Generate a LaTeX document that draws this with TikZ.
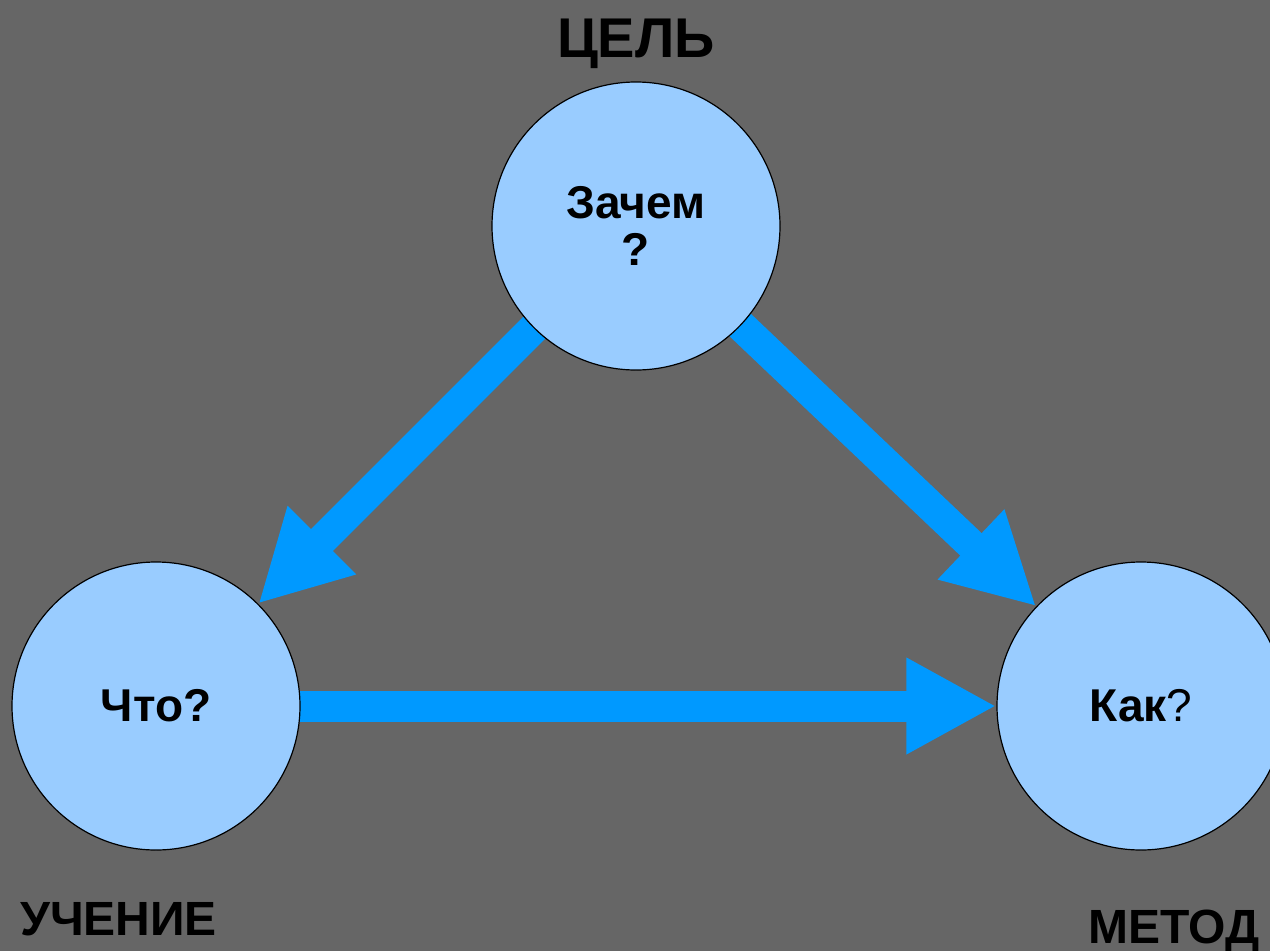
\documentclass[tikz,border=0pt]{standalone}
\usepackage{fontspec}
\setmainfont{Liberation Sans}
\usetikzlibrary{arrows.meta,backgrounds}
\definecolor{bggray}{HTML}{666666}
\definecolor{ballblue}{HTML}{99CCFF}
\definecolor{pushblue}{HTML}{0099FF}
\begin{document}
\begin{tikzpicture}[x=1pt, y=-1pt,
   ball/.style={circle, draw=black, line width=1.2pt, fill=ballblue,
                minimum size=288pt, inner sep=0pt, align=center,
                font=\fontsize{46}{47}\selectfont\bfseries},
   caption/.style={font=\fontsize{48}{50}\selectfont\bfseries, inner sep=0pt},
   push/.style={pushblue, line width=31pt, -{Triangle[length=90pt,width=90pt]}}]

\useasboundingbox (0,0) rectangle (1270,951);

\node[ball] (zachem) at (636,226) {Зачем\\?};
\node[ball] (chto) at (156,706) {Что?};
\node[ball] (kak) at (1141,706) {Как\mdseries?};

\node[caption, font=\fontsize{56}{60}\selectfont\bfseries, anchor=base] (tsel) at (636,57) {ЦЕЛЬ};
\node[caption, anchor=base west] (uchenie) at (20,935) {УЧЕНИЕ};
\node[caption, anchor=base west] (metod) at (1088,943) {МЕТОД};

\begin{scope}[on background layer]
\fill[bggray] (0,0) rectangle (1270,951);
\draw[push] (zachem.center) -- (chto);
\draw[push] (zachem.center) -- (kak);
\draw[push] (chto.center) -- (kak);
\end{scope}

\end{tikzpicture}
\end{document}
